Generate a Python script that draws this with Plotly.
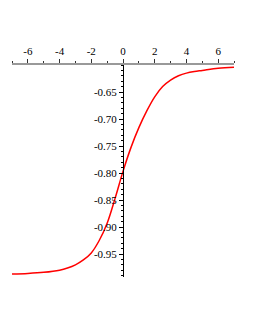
import plotly.graph_objects as go

x_vals = [-7, -6, -5, -4, -3.5, -3, -2.5, -2, -1.5, -1, -0.5, 0, 0.5, 1, 1.5, 2, 2.5, 3, 3.5, 4, 4.5, 5, 6, 7]
y_vals = [-0.987, -0.986, -0.984, -0.980, -0.976, -0.970, -0.961, -0.948, -0.925, -0.893, -0.847,
          -0.797, -0.753, -0.716, -0.685, -0.659, -0.640, -0.628, -0.620, -0.615, -0.612, -0.610,
          -0.606, -0.604]

x_ticks = [-6, -4, -2, 0, 2, 4, 6]
x_ticktext = ["-6", "-4", "-2", "0", "2", "4", "6"]
y_ticks = [-0.95, -0.90, -0.85, -0.80, -0.75, -0.70, -0.65]
y_ticktext = ["-0.95", "-0.90", "-0.85", "-0.80", "-0.75", "-0.70", "-0.65"]

fig = go.Figure()
fig.add_trace(go.Scatter(x=x_vals, y=y_vals, mode="lines",
                         line=dict(color="#ff0000", width=1.5, shape="spline", smoothing=1.0),
                         showlegend=False, hoverinfo="skip"))

font = dict(family="Liberation Serif", size=11, color="black")
fig.update_layout(
    width=247, height=322,
    margin=dict(l=4, r=21, t=57, b=53),
    paper_bgcolor="white", plot_bgcolor="white",
    showlegend=False,
    xaxis=dict(range=[-7, 7], side="top", showline=True, linecolor="#999999", linewidth=2,
               automargin=False,
               showgrid=False, zeroline=False, tickmode="array", tickvals=x_ticks, ticktext=x_ticktext,
               ticks="outside", ticklen=4, tickcolor="#333333", tickfont=font,
               minor=dict(ticks="outside", dtick=1, ticklen=2, tickcolor="#333333")),
    yaxis=dict(range=[-0.9926, -0.60], anchor="free", position=0.5, side="left", showline=True,
               automargin=False,
               linecolor="black", linewidth=1, showgrid=False, zeroline=False,
               tickmode="array", tickvals=y_ticks, ticktext=y_ticktext,
               ticks="outside", ticklen=4, tickcolor="black", tickfont=font,
               minor=dict(ticks="outside", dtick=0.01, tick0=-0.6, ticklen=2, tickcolor="black")),
)
fig.write_html("out.html")
